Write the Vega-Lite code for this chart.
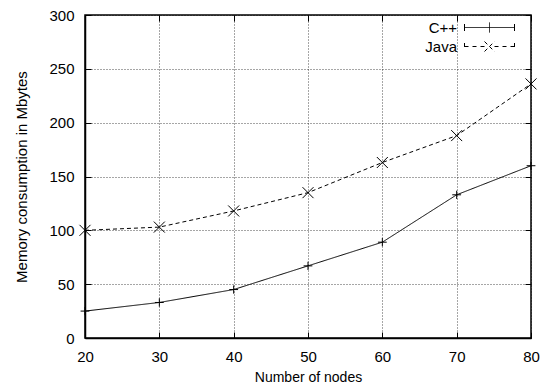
{
  "$schema": "https://vega.github.io/schema/vega-lite/v6.json",
  "autosize": {"type": "none"},
  "width": 446,
  "height": 323,
  "padding": {"left": 85, "top": 15, "right": 14, "bottom": 48},
  "background": "white",
  "config": {
    "font": "Liberation Sans",
    "view": {"stroke": "black", "strokeWidth": 1.5},
    "axis": {
      "labelFont": "Liberation Sans",
      "labelFontSize": 15,
      "labelColor": "black",
      "labelFlush": false,
      "titleFont": "Liberation Sans",
      "titleFontSize": 14,
      "titleFontWeight": "normal",
      "titleColor": "black",
      "domainColor": "black",
      "domainWidth": 1.5,
      "tickColor": "black",
      "tickSize": -6,
      "tickWidth": 1,
      "gridColor": "black",
      "gridDash": [1, 2],
      "gridOpacity": 0.7,
      "gridWidth": 1
    },
    "legend": {
      "labelFont": "Liberation Sans",
      "labelFontSize": 15,
      "labelColor": "black"
    }
  },
  "data": {
    "values": [
      {"nodes": 20, "lang": "C++", "mem": 25},
      {"nodes": 30, "lang": "C++", "mem": 33},
      {"nodes": 40, "lang": "C++", "mem": 45},
      {"nodes": 50, "lang": "C++", "mem": 67},
      {"nodes": 60, "lang": "C++", "mem": 89},
      {"nodes": 70, "lang": "C++", "mem": 133},
      {"nodes": 80, "lang": "C++", "mem": 160},
      {"nodes": 20, "lang": "Java", "mem": 100},
      {"nodes": 30, "lang": "Java", "mem": 103},
      {"nodes": 40, "lang": "Java", "mem": 118},
      {"nodes": 50, "lang": "Java", "mem": 135},
      {"nodes": 60, "lang": "Java", "mem": 163},
      {"nodes": 70, "lang": "Java", "mem": 188},
      {"nodes": 80, "lang": "Java", "mem": 236}
    ]
  },
  "resolve": {"axis": {"x": "independent", "y": "independent"}},
  "layer": [
    {
      "mark": {"type": "line", "color": "black", "strokeWidth": 1},
      "encoding": {
        "x": {
          "field": "nodes", "type": "quantitative",
          "scale": {"domain": [20, 80], "nice": false, "zero": false},
          "axis": {"values": [20, 30, 40, 50, 60, 70, 80], "title": "Number of nodes", "labelPadding": 17, "titlePadding": 6, "grid": true}
        },
        "y": {
          "field": "mem", "type": "quantitative",
          "scale": {"domain": [0, 300], "nice": false},
          "axis": {"values": [0, 50, 100, 150, 200, 250, 300], "title": "Memory consumption in Mbytes", "titleFontSize": 15, "labelPadding": 17, "titlePadding": 19, "grid": true}
        },
        "strokeDash": {
          "field": "lang", "type": "nominal",
          "scale": {"domain": ["C++", "Java"], "range": [[1, 0], [4, 3]]},
          "legend": {
            "title": null,
            "orient": "none",
            "legendX": 397,
            "legendY": 5,
            "padding": 0,
            "symbolSize": 100,
            "symbolStrokeWidth": 1,
            "symbolStrokeColor": "black",
            "symbolFillColor": "transparent",
            "labelAlign": "right",
            "labelOffset": -40,
            "rowPadding": 3,
            "encode": {
              "symbols": {
                "update": {
                  "strokeDash": {"value": [1, 0]},
                  "shape": {"signal": "datum.value === 'C++' ? 'M-5,0H5M-5,-0.7V0.7M5,-0.7V0.7M0,-1V1' : 'M-5,0H-4.2M-3.4,0H-2.6M-1.8,0H-1M1,0H1.8M2.6,0H3.4M4.2,0H5M-5,-0.7V0.7M5,-0.7V0.7M-1,-1L1,1M-1,1L1,-1'"}
                }
              }
            }
          }
        }
      }
    },
    {
      "transform": [{"filter": "datum.lang === 'C++'"}],
      "mark": {"type": "point", "filled": false, "color": "black", "strokeWidth": 1, "size": 121, "opacity": 1, "shape": "M-0.8,0H0.8M0,-0.75V0.75"},
      "encoding": {
        "x": {
          "field": "nodes", "type": "quantitative",
          "axis": {"orient": "top", "values": [20, 30, 40, 50, 60, 70, 80], "labels": false, "title": null, "grid": false, "domain": false}
        },
        "y": {
          "field": "mem", "type": "quantitative",
          "axis": {"orient": "right", "values": [0, 50, 100, 150, 200, 250, 300], "labels": false, "title": null, "grid": false, "domain": false}
        }
      }
    },
    {
      "transform": [{"filter": "datum.lang === 'Java'"}],
      "mark": {"type": "point", "filled": false, "color": "black", "strokeWidth": 1, "size": 121, "opacity": 1, "shape": "M-1,-1L1,1M-1,1L1,-1"},
      "encoding": {
        "x": {"field": "nodes", "type": "quantitative", "axis": null},
        "y": {"field": "mem", "type": "quantitative", "axis": null}
      }
    }
  ]
}
